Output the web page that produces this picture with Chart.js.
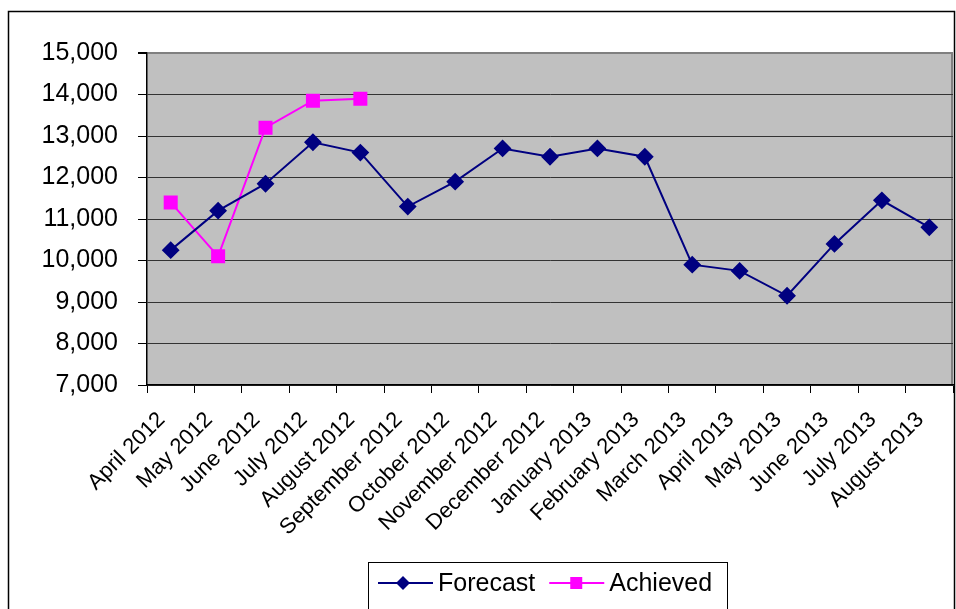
<!DOCTYPE html>
<html>
<head>
<meta charset="utf-8">
<script src="https://cdn.jsdelivr.net/npm/chart.js@4"></script>
<style>
  html, body { margin: 0; padding: 0; background: #fff; }
  #wrap { width: 956px; height: 609px; position: relative; }
</style>
</head>
<body>
<div id="wrap"><canvas id="forecastChart" width="956" height="609"></canvas></div>
<script>
var months = ['April 2012', 'May 2012', 'June 2012', 'July 2012', 'August 2012', 'September 2012',
    'October 2012', 'November 2012', 'December 2012', 'January 2013', 'February 2013', 'March 2013',
    'April 2013', 'May 2013', 'June 2013', 'July 2013', 'August 2013'];
var forecast = [10250, 11200, 11850, 12850, 12600, 11300, 11900, 12700, 12500, 12700, 12500,
    9900, 9750, 9150, 10400, 11450, 10800];
var achieved = [11400, 10100, 13200, 13850, 13900];
var yMin = 7000;
var yMax = 15000;
var yStep = 1000;

var FONT = '"Liberation Sans", Arial, sans-serif';

var framePlugin = {
    id: 'frame',
    beforeDraw: function (chart) {
        var c = chart.ctx, a = chart.chartArea;
        c.save();
        c.fillStyle = '#c0c0c0';
        c.fillRect(a.left, a.top, a.right - a.left, a.bottom - a.top);
        c.strokeStyle = '#808080';
        c.lineWidth = 2;
        c.beginPath();
        c.moveTo(a.right - 1, a.top);
        c.lineTo(a.right - 1, a.bottom);
        c.stroke();
        // outer chart border
        c.strokeStyle = '#000';
        c.lineWidth = 1.5;
        c.strokeRect(8.5, 11.5, 946, 700);
        c.restore();
    },
    afterDraw: function (chart) {
        var c = chart.ctx;
        var sets = chart.data.datasets;
        c.save();
        c.fillStyle = '#fff';
        c.fillRect(368, 562, 360, 60);
        c.strokeStyle = '#000';
        c.lineWidth = 1;
        c.strokeRect(368.5, 562.5, 359, 60);
        var x = 378, y = 583;
        c.font = '25px ' + FONT;
        c.textBaseline = 'middle';
        for (var i = 0; i < sets.length; i++) {
            var ds = sets[i];
            c.strokeStyle = ds.borderColor;
            c.lineWidth = 2;
            c.beginPath();
            c.moveTo(x, y);
            c.lineTo(x + 55, y);
            c.stroke();
            c.fillStyle = ds.pointBackgroundColor;
            c.beginPath();
            if (ds.pointStyle === 'rectRot') {
                c.moveTo(x + 25, y - 7);
                c.lineTo(x + 32, y);
                c.lineTo(x + 25, y + 7);
                c.lineTo(x + 18, y);
                c.closePath();
            } else {
                c.rect(x + 21, y - 6, 12, 12);
            }
            c.fill();
            c.fillStyle = '#000';
            c.fillText(ds.label, x + 60, y + 1);
            x += 60 + c.measureText(ds.label).width + 14;
        }
        c.restore();
    }
};

new Chart(document.getElementById('forecastChart'), {
    type: 'line',
    data: {
        labels: months,
        datasets: [
            {
                label: 'Forecast',
                data: forecast,
                borderColor: '#000080',
                backgroundColor: '#000080',
                pointBackgroundColor: '#000080',
                pointBorderColor: '#000080',
                pointStyle: 'rectRot',
                pointRadius: 7.5,
                borderWidth: 2,
                tension: 0
            },
            {
                label: 'Achieved',
                data: achieved,
                borderColor: '#ff00ff',
                backgroundColor: '#ff00ff',
                pointBackgroundColor: '#ff00ff',
                pointBorderColor: '#ff00ff',
                pointStyle: 'rect',
                pointRadius: 8.5,
                borderWidth: 2,
                tension: 0
            }
        ]
    },
    options: {
        responsive: false,
        animation: false,
        layout: { autoPadding: false, padding: { top: 53, right: 3, left: 0, bottom: 0 } },
        plugins: { legend: { display: false }, tooltip: { enabled: false } },
        scales: {
            x: {
                offset: true,
                afterFit: function (s) { s.height = 224; s.paddingRight = 0; s.paddingLeft = 0; },
                border: { color: '#000', width: 1.5 },
                grid: { offset: true, drawOnChartArea: false, drawTicks: true, tickLength: 8, tickColor: '#000' },
                ticks: {
                    maxRotation: 45, minRotation: 45, autoSkip: false, padding: 14, labelOffset: -9,
                    color: '#000', font: { family: FONT, size: 22 }
                }
            },
            y: {
                min: yMin,
                max: yMax,
                afterFit: function (s) { s.width = 147; },
                border: { color: '#000', width: 1.5 },
                grid: {
                    color: function (ctx) { return ctx.tick && ctx.tick.value === yMax ? '#808080' : '#333'; },
                    lineWidth: function (ctx) { return ctx.tick && ctx.tick.value === yMax ? 2 : 1; },
                    tickLength: 9, tickColor: '#000'
                },
                ticks: {
                    stepSize: yStep, padding: 20, color: '#000',
                    font: { family: FONT, size: 25 },
                    callback: function (v) { return v.toLocaleString('en-US'); }
                }
            }
        }
    },
    plugins: [framePlugin]
});
</script>
</body>
</html>
